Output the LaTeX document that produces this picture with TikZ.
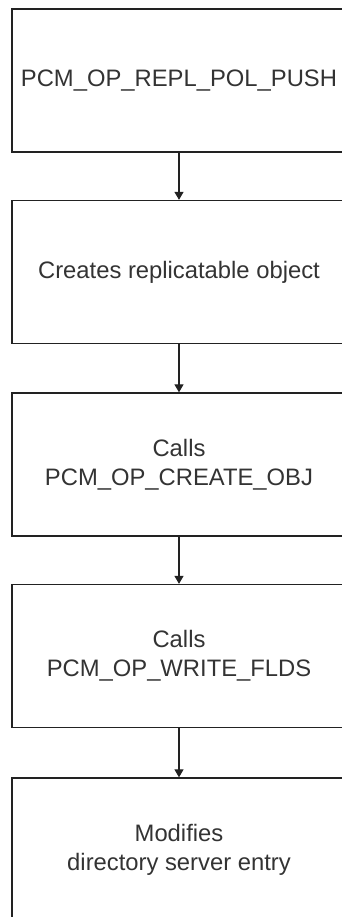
\documentclass[tikz,border=0pt]{standalone}
\usepackage{fontspec}
\setmainfont{Liberation Sans}
\usetikzlibrary{arrows.meta}
\definecolor{edge}{HTML}{222222}
\definecolor{txt}{HTML}{333333}
\begin{document}
\begin{tikzpicture}[x=1pt,y=-1pt,
  stepbox/.style={draw=edge,line width=1.3pt,minimum width=334pt,minimum height=143pt,
    inner sep=0pt,align=center,text=txt,font=\fontsize{23.8}{29}\selectfont},
  flow/.style={draw=edge,line width=1.2pt,-{Triangle[length=8pt,width=9pt]}}]
\useasboundingbox (0,0) rectangle (341,917);
\node[stepbox] (b1) at (179,80.5) {PCM\_OP\_REPL\_POL\_PUSH};
\node[stepbox] (b2) at (179,272) {Creates replicatable object};
\node[stepbox] (b3) at (179,464.5) {Calls\\PCM\_OP\_CREATE\_OBJ};
\node[stepbox] (b4) at (179,656) {Calls\\PCM\_OP\_WRITE\_FLDS};
\node[stepbox] (b5) at (179,849.5) {Modifies\\directory server entry};
\draw[flow] (b1.south) -- (b2.north);
\draw[flow] (b2.south) -- (b3.north);
\draw[flow] (b3.south) -- (b4.north);
\draw[flow] (b4.south) -- (b5.north);
\end{tikzpicture}
\end{document}
